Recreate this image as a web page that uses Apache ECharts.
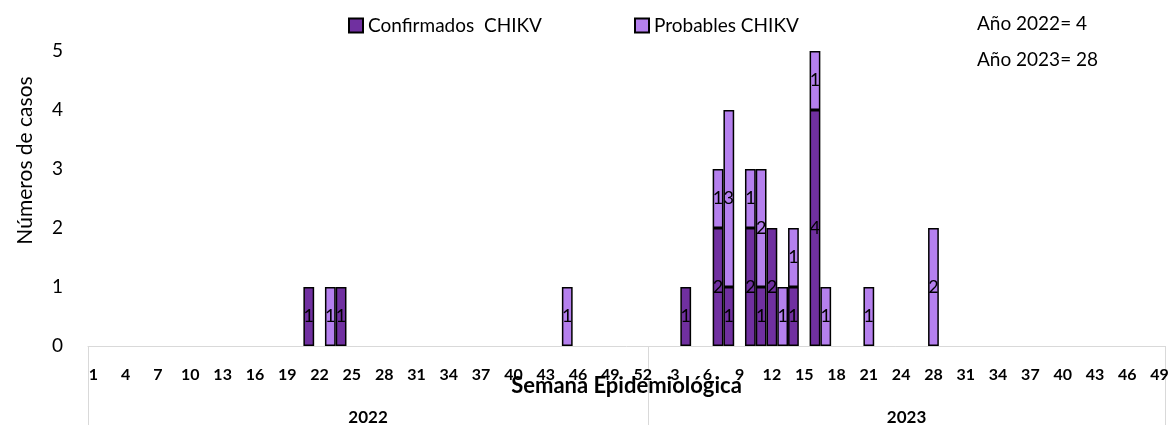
<!DOCTYPE html>
<html>
<head>
<meta charset="utf-8">
<script src="https://cdn.jsdelivr.net/npm/echarts@6/dist/echarts.min.js"></script>
<style>
  html, body { margin: 0; padding: 0; background: #fff; }
  #chart { width: 1170px; height: 425px; }
</style>
</head>
<body>
<div id="chart"></div>
<script>
// weeks on the axis (2023 has one week missing between 24 and 28)
var semanas2022 = [1,2,3,4,5,6,7,8,9,10,11,12,13,14,15,16,17,18,19,20,21,22,23,24,25,26,
  27,28,29,30,31,32,33,34,35,36,37,38,39,40,41,42,43,44,45,46,47,48,49,50,51,52];
var semanas2023 = [1,2,3,4,5,6,7,8,9,10,11,12,13,14,15,16,17,18,19,20,21,22,23,24,25,27,
  28,29,30,31,32,33,34,35,36,37,38,39,40,41,42,43,44,45,46,47,48,49];
var anios = ['2022', '2023'];

// [week, cases]
var confirmados2022 = [[21, 1], [24, 1]];
var probables2022 = [[23, 1], [45, 1]];
var confirmados2023 = [[4, 1], [7, 2], [8, 1], [10, 2], [11, 1], [12, 2], [14, 1], [16, 4]];
var probables2023 = [[7, 1], [8, 3], [10, 1], [11, 2], [13, 1], [14, 1], [16, 1], [17, 1], [21, 1], [28, 2]];

var totales = ['Año 2022= 4', 'Año 2023= 28'];

var colConf = '#7030A0';
var colProb = '#B580EE';

var categorias = [];
semanas2022.forEach(function (w) { categorias.push('2022-' + w); });
semanas2023.forEach(function (w) { categorias.push('2023-' + w); });

function serie(list2022, list2023) {
  var out = categorias.map(function () { return '-'; });
  list2022.forEach(function (p) { out[categorias.indexOf('2022-' + p[0])] = p[1]; });
  list2023.forEach(function (p) { out[categorias.indexOf('2023-' + p[0])] = p[1]; });
  return out;
}

var font = 'Lato';
var chart = echarts.init(document.getElementById('chart'));

var barLabel = {
  show: true,
  position: 'inside',
  color: '#000',
  fontFamily: font,
  fontSize: 18,
  textBorderWidth: 0,
  formatter: function (p) { return p.value > 0 ? p.value : ''; }
};

var options = {
  animation: false,
  title: {
    text: totales.join('\n'),
    left: 972,
    top: 1,
    textStyle: { fontFamily: font, fontSize: 19, fontWeight: 'normal', color: '#000', lineHeight: 36 }
  },
  legend: [
    {
      data: ['Confirmados  CHIKV'],
      left: 343, top: 11,
      itemWidth: 14, itemHeight: 14, itemGap: 5,
      icon: 'rect',
      textStyle: { fontFamily: font, fontSize: 19, color: '#000' }
    },
    {
      data: ['Probables CHIKV'],
      left: 629, top: 11,
      itemWidth: 14, itemHeight: 14, itemGap: 5,
      icon: 'rect',
      textStyle: { fontFamily: font, fontSize: 19, color: '#000' }
    }
  ],
  grid: { left: 88, right: 5, top: 51, bottom: 79, outerBoundsMode: 'none' },
  xAxis: [
    {
      type: 'category',
      data: categorias,
      position: 'bottom',
      axisLine: { lineStyle: { color: '#d9d9d9', width: 1 } },
      axisTick: { show: false },
      axisLabel: {
        interval: 2,
        margin: 21,
        fontFamily: font, fontSize: 16, fontWeight: 'bold', color: '#000',
        formatter: function (v) { return v.split('-')[1]; }
      },
      name: 'Semana Epidemiológica',
      nameLocation: 'middle',
      nameGap: 29,
      nameMoveOverlap: false,
      nameTextStyle: { fontFamily: font, fontSize: 22, fontWeight: 'bold', color: '#000' }
    },
    {
      // second level of the axis: year groups
      type: 'value',
      min: 0,
      max: categorias.length,
      position: 'bottom',
      axisLine: { show: false },
      splitLine: { show: false },
      axisTick: {
        show: true,
        customValues: [0, semanas2022.length, categorias.length],
        length: 79,
        lineStyle: { color: '#d9d9d9', width: 1 }
      },
      axisLabel: {
        customValues: [semanas2022.length / 2, semanas2022.length + semanas2023.length / 2],
        margin: 63,
        fontFamily: font, fontSize: 17, fontWeight: 'bold', color: '#000',
        formatter: function (v) { return v < semanas2022.length ? anios[0] : anios[1]; }
      }
    }
  ],
  yAxis: {
    type: 'value',
    min: 0,
    max: 5,
    interval: 1,
    axisLine: { show: false },
    axisTick: { show: false },
    splitLine: { show: false },
    axisLabel: { margin: 25, fontFamily: font, fontSize: 19, color: '#000' },
    name: 'Números de casos',
    nameLocation: 'middle',
    nameRotate: 90,
    nameGap: 52,
    nameTextStyle: { fontFamily: font, fontSize: 21, color: '#000', padding: [0, 0, 0, 76] }
  },
  series: [
    {
      name: 'Confirmados  CHIKV',
      type: 'bar',
      stack: 'casos',
      xAxisIndex: 0,
      barCategoryGap: '0%',
      data: serie(confirmados2022, confirmados2023),
      itemStyle: { color: colConf, borderColor: '#000', borderWidth: 1.5 },
      label: barLabel
    },
    {
      name: 'Probables CHIKV',
      type: 'bar',
      stack: 'casos',
      xAxisIndex: 0,
      barCategoryGap: '0%',
      data: serie(probables2022, probables2023),
      itemStyle: { color: colProb, borderColor: '#000', borderWidth: 1.5 },
      label: barLabel
    }
  ]
};

chart.setOption(options);
</script>
</body>
</html>
